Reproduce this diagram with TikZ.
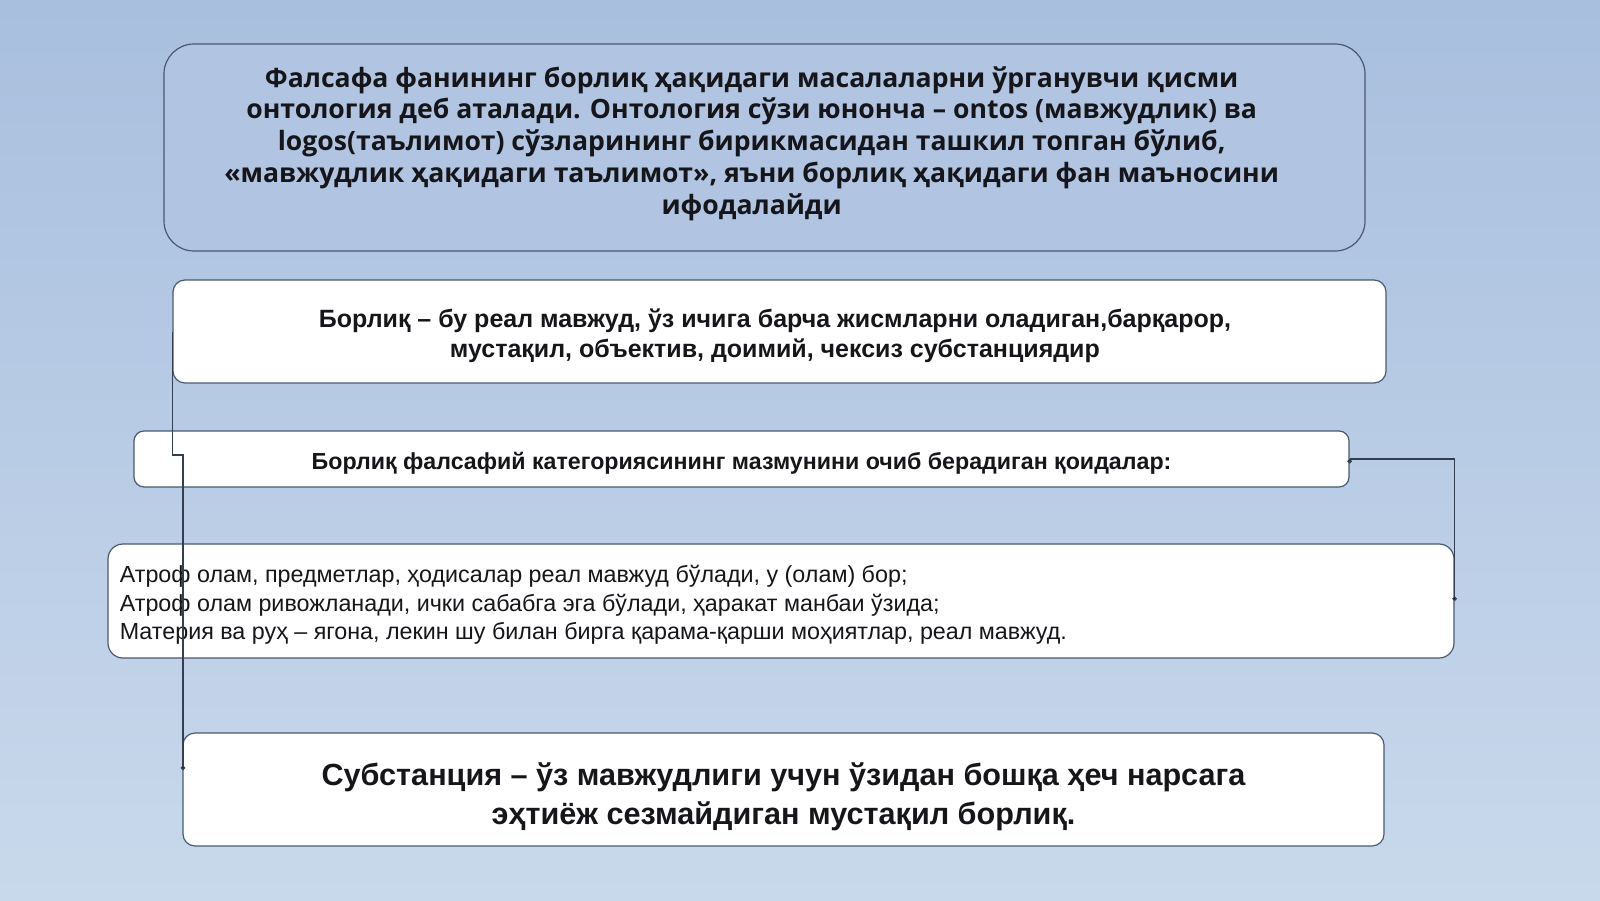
\documentclass[tikz,border=0pt]{standalone}
\usepackage{fontspec}
\setmainfont{Liberation Sans}
\newfontfamily\opensans{Open Sans}
\usetikzlibrary{arrows.meta}
\usetikzlibrary{calc}

\definecolor{bgtop}{RGB}{168,191,222}
\definecolor{bgbot}{RGB}{201,217,236}
\definecolor{frame}{RGB}{74,88,116}
\definecolor{topfill}{RGB}{177,197,226}
\definecolor{ink}{RGB}{22,22,26}

\begin{document}
\begin{tikzpicture}[x=0.5pt,y=-0.5pt,
	box/.style={draw=frame, line width=0.6pt, fill=white, rounded corners=6pt, inner sep=0pt},
	txt/.style={align=center, inner sep=0pt, text=ink},
	link/.style={draw=frame!70!black, line width=0.6pt, -{Circle[length=2.2pt]}}]
\fill[top color=bgtop, bottom color=bgbot] (0,0) rectangle (1600,900);
\useasboundingbox (0,0) rectangle (1600,900);
% boxes
\node[box, fill=topfill, rounded corners=15pt, minimum width=600.5pt, minimum height=103.5pt] (onto) at (764.5,147.5) {};
\node[box, minimum width=606.5pt, minimum height=51.5pt] (borliq) at (779.5,331.5) {};
\node[box, rounded corners=5pt, minimum width=607.5pt, minimum height=28pt] (qoida) at (741.5,459) {};
\node[box, rounded corners=7.5pt, minimum width=673pt, minimum height=57pt] (atrof) at (781,601) {};
\node[box, minimum width=600.5pt, minimum height=56.5pt] (subst) at (783.5,789.5) {};
% texts
\node[txt, font=\opensans\bfseries\fontsize{13.3}{15.9}\selectfont] (onto-t) at ([xshift=-6.4pt,yshift=2pt]onto.center)
	{Фалсафа фанининг борлиқ ҳақидаги масалаларни ўрганувчи қисми\\
	онтология деб аталади. Онтология сўзи юнонча – ontos (мавжудлик) ва\\
	logos(таълимот) сўзларининг бирикмасидан ташкил топган бўлиб,\\
	«мавжудлик ҳақидаги таълимот», яъни борлиқ ҳақидаги фан маъносини\\
	ифодалайди};
\node[txt, font=\bfseries\fontsize{12.5}{14.8}\selectfont] (borliq-t) at ([xshift=-2.3pt,yshift=-2pt]borliq.center)
	{Борлиқ – бу реал мавжуд, ўз ичига барча жисмларни оладиган,барқарор,\\
	мустақил, объектив, доимий, чексиз субстанциядир};
\node[txt, font=\bfseries\fontsize{11.6}{14}\selectfont] (qoida-t) at ([yshift=-2pt]qoida.center)
	{Борлиқ фалсафий категориясининг мазмунини очиб берадиган қоидалар:};
\node[txt, align=left, anchor=west, font=\fontsize{11.65}{14.3}\selectfont] (atrof-t) at ([xshift=6pt,yshift=-2pt]atrof.west)
	{Атроф олам, предметлар, ҳодисалар реал мавжуд бўлади, у (олам) бор;\\
	Атроф олам ривожланади, ички сабабга эга бўлади, ҳаракат манбаи ўзида;\\
	Материя ва руҳ – ягона, лекин шу билан бирга қарама-қарши моҳиятлар, реал мавжуд.};
\node[txt, font=\bfseries\fontsize{15.3}{19.4}\selectfont] (subst-t) at ([yshift=-3.5pt]subst.center)
	{Субстанция – ўз мавжудлиги учун ўзидан бошқа ҳеч нарсага\\
	эҳтиёж сезмайдиган мустақил борлиқ.};
\coordinate (s-in) at (183,770);
\path[link]
(borliq.west) edge[to path={|- (183,455) -- (\tikztotarget)}] (s-in)
(qoida.east) edge[to path={-| (\tikztotarget)}] (atrof.east)
;
\end{tikzpicture}
\end{document}
